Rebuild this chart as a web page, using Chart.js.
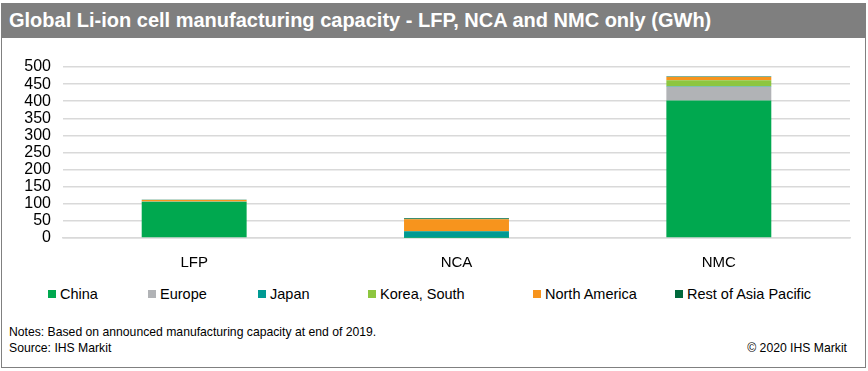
<!DOCTYPE html>
<html>
<head>
<meta charset="utf-8">
<script src="https://cdn.jsdelivr.net/npm/chart.js@4/dist/chart.umd.min.js"></script>
<style>
  body { margin: 0; background: #fff; font-family: "Liberation Sans", Arial, sans-serif; }
  #frame { position: absolute; left: 1px; top: 3px; width: 863px; height: 363px; border: 1px solid #808080; }
  #title { position: absolute; left: 1px; top: 3px; width: 865px; height: 35px; background: #7f7f7f;
           color: #fff; font-weight: bold; font-size: 20px; line-height: 35px; padding-left: 8px; box-sizing: border-box; }
  #wrap { position: absolute; left: 0; top: 40px; width: 868px; height: 232px; }
  .leg { position: absolute; top: 286px; font-size: 14.5px; color: #000; white-space: nowrap; }
  .leg i { display: inline-block; width: 8px; height: 8px; margin-right: 4px; vertical-align: 1px; }
  .note { position: absolute; font-size: 12.2px; color: #000; }
</style>
</head>
<body>
<div id="frame"></div>
<div id="title">Global Li-ion cell manufacturing capacity - LFP, NCA and NMC only (GWh)</div>
<div id="wrap"><canvas id="chart"></canvas></div>
<div id="legend"></div>
<div class="note" style="left:9px; top:325px;">Notes: Based on announced manufacturing capacity at end of 2019.</div>
<div class="note" style="left:9px; top:341px;">Source: IHS Markit</div>
<div class="note" style="right:21px; top:341px;">© 2020 IHS Markit</div>
<script>
// categories and series (GWh)
var categories = ['LFP', 'NCA', 'NMC'];
var china = [106, 0.5, 402];
var europe = [0.5, 0, 40];
var japan = [0, 19.5, 1.5];
var korea = [0, 0, 18];
var northAmerica = [4.5, 35, 9];
var restAsiaPacific = [0.5, 2.5, 2];
var yTicks = [0, 50, 100, 150, 200, 250, 300, 350, 400, 450, 500];

var seriesNames = ['China', 'Europe', 'Japan', 'Korea, South', 'North America', 'Rest of Asia Pacific'];
var seriesData = [china, europe, japan, korea, northAmerica, restAsiaPacific];
var seriesColors = ['#00a84f', '#b1b3b6', '#009a93', '#8dc63f', '#f7941d', '#00693c'];

var datasets = seriesNames.map(function (name, i) {
    return {
        label: name,
        data: seriesData[i],
        backgroundColor: seriesColors[i],
        borderWidth: 0,
        categoryPercentage: 1,
        barPercentage: 0.4
    };
});

// legend in the same place as the original
var legendX = [48, 148, 258, 368, 533, 675];
var legendEl = document.getElementById('legend');
seriesNames.forEach(function (name, i) {
    legendEl.insertAdjacentHTML('beforeend',
        '<div class="leg" style="left:' + legendX[i] + 'px"><i style="background:' + seriesColors[i] + '"></i>' + name + '</div>');
});

var ctx = document.getElementById('chart').getContext('2d');
new Chart(ctx, {
    type: 'bar',
    data: { labels: categories, datasets: datasets },
    options: {
        responsive: true,
        maintainAspectRatio: false,
        animation: false,
        layout: { padding: { top: 27, right: 18, left: 0, bottom: 0 } },
        plugins: { legend: { display: false }, tooltip: { enabled: false } },
        scales: {
            x: {
                stacked: true,
                grid: { display: false },
                border: { display: true, color: '#d9d9d9', width: 1.5 },
                ticks: { color: '#000', font: { family: 'Liberation Sans', size: 15 }, padding: 8 },
                afterFit: function (s) { s.height = 34; }
            },
            y: {
                stacked: true,
                min: 0,
                max: 500,
                afterBuildTicks: function (s) { s.ticks = yTicks.map(function (v) { return { value: v }; }); },
                grid: { color: '#d9d9d9', lineWidth: 1.5, drawTicks: false },
                border: { display: false },
                ticks: { color: '#000', font: { family: 'Liberation Sans', size: 16 }, padding: 12, autoSkip: false },
                afterFit: function (s) { s.width = 63; }
            }
        }
    }
});
</script>
</body>
</html>
